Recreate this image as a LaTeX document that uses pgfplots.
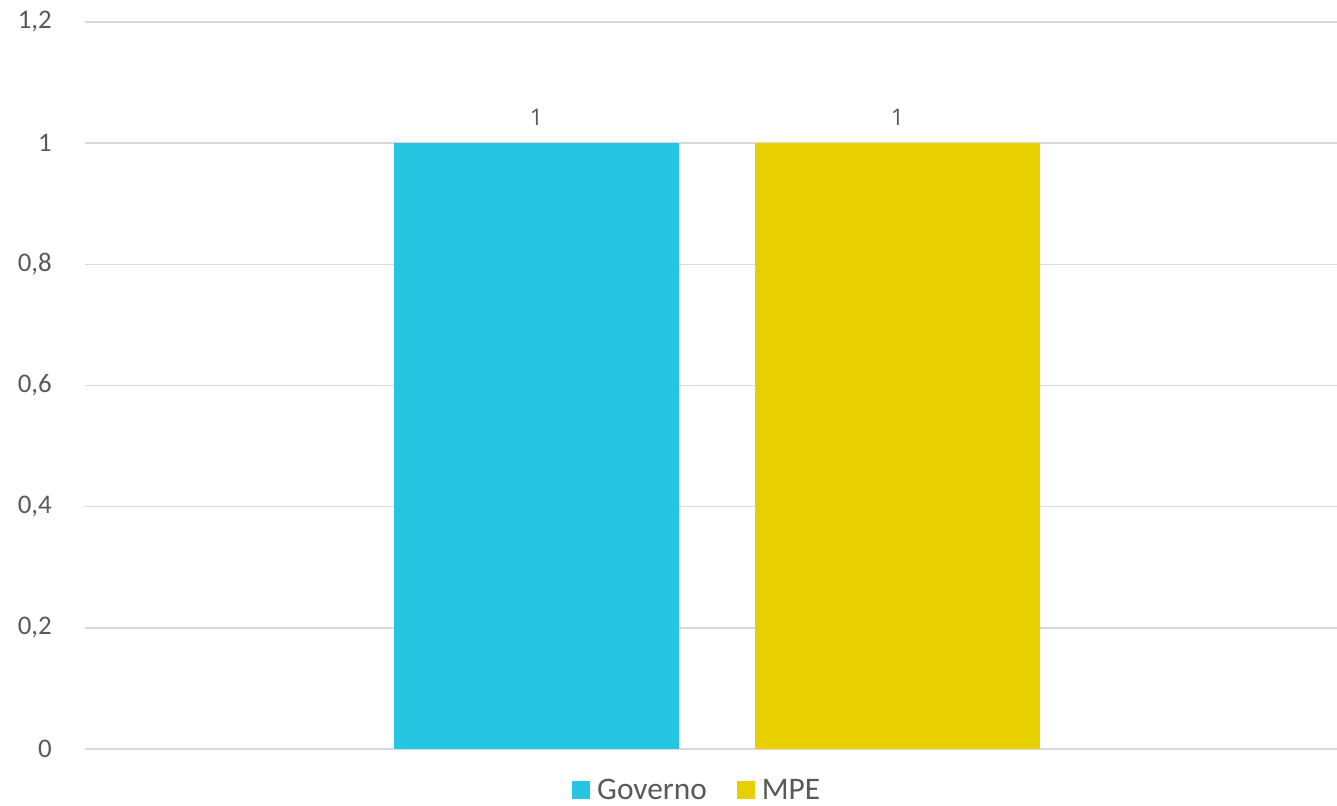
\documentclass[border=0pt]{standalone}
\usepackage{pgfplots}
\pgfplotsset{compat=1.18}
\usepackage{fontspec}
\setmainfont{Carlito}
\newfontfamily\labfont{Open Sans}
\definecolor{gov}{HTML}{26C6E3}
\definecolor{mpe}{HTML}{E8D000}
\definecolor{txt}{HTML}{595959}
\definecolor{grd}{HTML}{D9D9D9}
\begin{document}
\begin{tikzpicture}
\useasboundingbox (0,0) rectangle (1337bp,806bp);
\begin{axis}[
  at={(85bp,57bp)}, anchor=south west,
  scale only axis, width=1252bp, height=727bp,
  xmin=-1.2507, xmax=2.2175,
  ymin=0, ymax=1.2,
  ytick={0,0.2,0.4,0.6,0.8,1,1.2},
  xtick=\empty,
  axis line style={draw=none},
  major tick length=0pt,
  ymajorgrids, grid style={grd, line width=1.5bp},
  /pgf/number format/.cd, use comma, fixed, assume math mode=true,
  /pgfplots/.cd,
  yticklabel style={font=\fontsize{27}{32}\selectfont, text=txt, anchor=east, inner sep=0pt, xshift=-33bp},
  ybar, bar shift=0pt, bar width=285bp,
  nodes near coords,
  every node near coord/.append style={font=\labfont\fontsize{23}{27}\selectfont, text=txt, yshift=14bp},
  legend style={draw=none, at={(0.489,-0.057)}, anchor=center, legend columns=2,
    font=\fontsize{31.5}{35}\selectfont, text=txt, inner sep=0pt,
    /tikz/every even column/.append style={column sep=28bp}},
  legend image code/.code={\fill[#1] (0bp,-9bp) rectangle (18bp,9bp); \path (0bp,0bp) -- (23bp,0bp);},
]
\addplot[fill=gov, draw=none] coordinates {(0,1)};
\addlegendentry{Governo}
\addplot[fill=mpe, draw=none] coordinates {(1,1)};
\addlegendentry{MPE}
\end{axis}
\end{tikzpicture}
\end{document}
